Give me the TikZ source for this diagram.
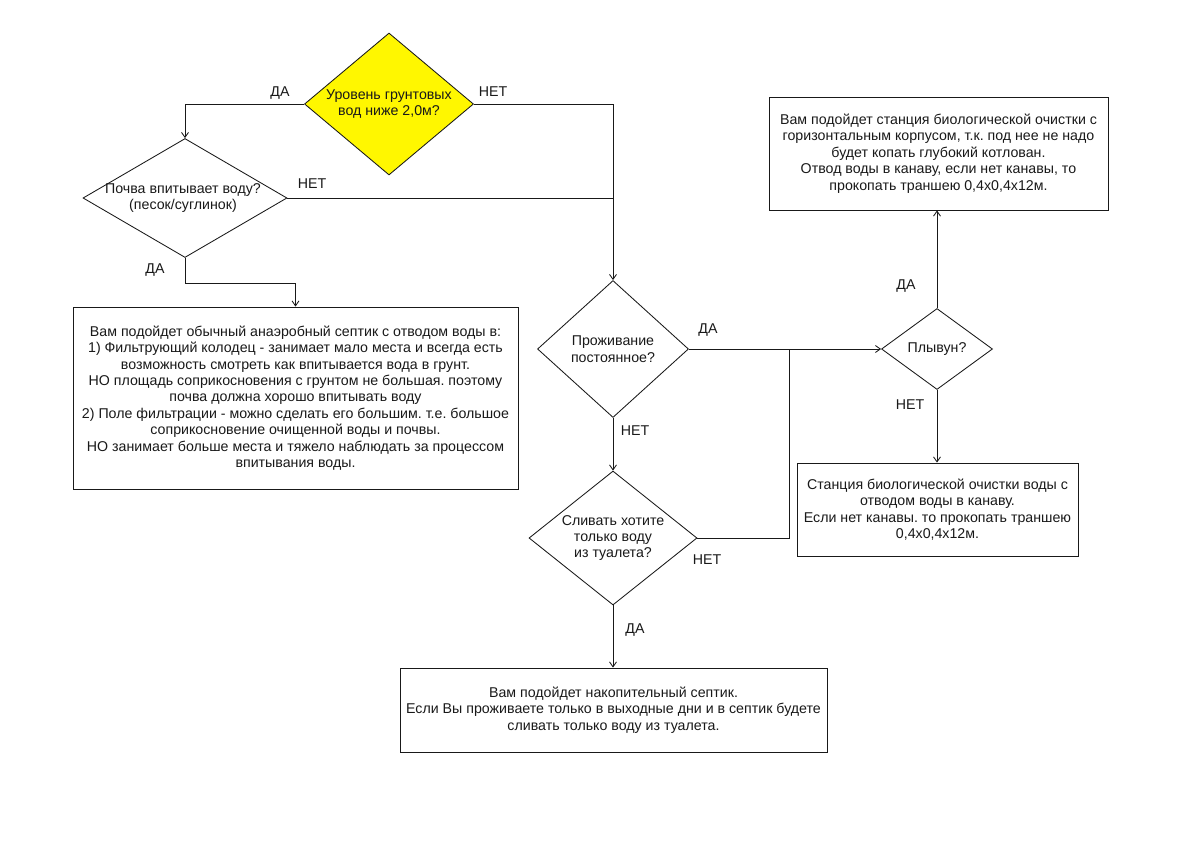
\documentclass[tikz,border=0pt]{standalone}
\usepackage{fontspec}
\setmainfont{Liberation Sans}
\frenchspacing
\usetikzlibrary{shapes.geometric,arrows.meta}
\definecolor{ink}{rgb}{0.1,0.1,0.1}
\definecolor{yel}{rgb}{1,0.97,0}
\tikzset{
  every node/.style={text=ink},
  dia/.style={draw=ink,line width=0.85pt,diamond,inner sep=0pt},
  box/.style={draw=ink,line width=0.85pt,rectangle,align=center,inner sep=0pt,
    font=\fontsize{14.2}{16.4}\selectfont},
  txt/.style={align=center,inner sep=0pt,font=\fontsize{14.2}{16.4}\selectfont},
  lbl/.style={inner sep=0pt,font=\fontsize{14.2}{16}\selectfont},
  conn/.style={draw=ink,line width=0.85pt},
  arr/.style={conn,-{Straight Barb[length=5pt,width=7pt]}}
}
\begin{document}
\begin{tikzpicture}[x=1pt,y=-1pt]
\fill[white] (0,0) rectangle (1200,849);
\useasboundingbox (0,0) rectangle (1200,849);
% diamonds
\node[dia,fill=yel,minimum width=169pt,minimum height=142pt] (d0) at (389,104) {};
\node[txt] (t0) at (389,104) {Уровень грунтовых\\вод ниже 2,0м?};
\node[dia,minimum width=204pt,minimum height=119pt] (d1) at (185,198) {};
\node[txt] (t1) at (183,198) {Почва впитывает воду?\\(песок/суглинок)};
\node[dia,minimum width=151pt,minimum height=137pt] (d2) at (613,349) {};
\node[txt] (t2) at (613,349) {Проживание\\постоянное?};
\node[dia,minimum width=168pt,minimum height=134pt] (d4) at (613,538) {};
\node[txt] (t4) at (613,538) {Сливать хотите\\только воду\\из туалета?};
\node[dia,minimum width=111pt,minimum height=81pt] (d3) at (937,349) {};
\node[txt] (t3) at (937,349) {Плывун?};
% boxes
\node[box,minimum width=445pt,minimum height=182pt] (b1) at (295.5,398) {Вам подойдет обычный анаэробный септик с отводом воды в:\\
1) Фильтрующий колодец - занимает мало места и всегда есть\\
возможность смотреть как впитывается вода в грунт.\\
НО площадь соприкосновения с грунтом не большая. поэтому\\
почва должна хорошо впитывать воду\\
2) Поле фильтрации - можно сделать его большим. т.е. большое\\
соприкосновение очищенной воды и почвы.\\
НО занимает больше места и тяжело наблюдать за процессом\\
впитывания воды.};
\node[box,minimum width=339pt,minimum height=113pt] (b2) at (938.5,153.5) {Вам подойдет станция биологической очистки с\\
горизонтальным корпусом, т.к. под нее не надо\\
будет копать глубокий котлован.\\
Отвод воды в канаву, если нет канавы, то\\
прокопать траншею 0,4х0,4х12м.};
\node[box,minimum width=281pt,minimum height=93pt] (b3) at (937.5,509.5) {Станция биологической очистки воды с\\
отводом воды в канаву.\\
Если нет канавы. то прокопать траншею\\
0,4х0,4х12м.};
\node[box,minimum width=427pt,minimum height=84pt] (b4) at (613.5,710) {Вам подойдет накопительный септик.\\
Если Вы проживаете только в выходные дни и в септик будете\\
сливать только воду из туалета.};
% junctions
\coordinate (j1) at (185,283);
\coordinate (j3) at (789,349);
% connectors
\draw[arr] (d0.west) -| (d1.north);
\draw[arr] (d0.east) -| (d2.north);
\draw[conn] (d1.east) -- (d1.east -| d2.north);
\draw[arr] (d1.south) -- (j1) -| (b1.north);
\draw[arr] (d2.east) -- (d3.west);
\draw[arr] (d2.south) -- (d4.north);
\draw[conn] (d4.east) -| (j3);
\draw[arr] (d4.south) -- (d4.south |- b4.north);
\draw[arr] (d3.north) -- (d3.north |- b2.south);
\draw[arr] (d3.south) -- (d3.south |- b3.north);
% labels
\node[lbl] (l1) at (280,93) {ДА};
\node[lbl] (l2) at (493,92) {НЕТ};
\node[lbl] (l3) at (312,184) {НЕТ};
\node[lbl] (l4) at (155,270) {ДА};
\node[lbl] (l5) at (708,330) {ДА};
\node[lbl] (l6) at (635,431) {НЕТ};
\node[lbl] (l7) at (707,560) {НЕТ};
\node[lbl] (l8) at (635,630) {ДА};
\node[lbl] (l9) at (906,286) {ДА};
\node[lbl] (l10) at (910,405) {НЕТ};
\end{tikzpicture}
\end{document}
